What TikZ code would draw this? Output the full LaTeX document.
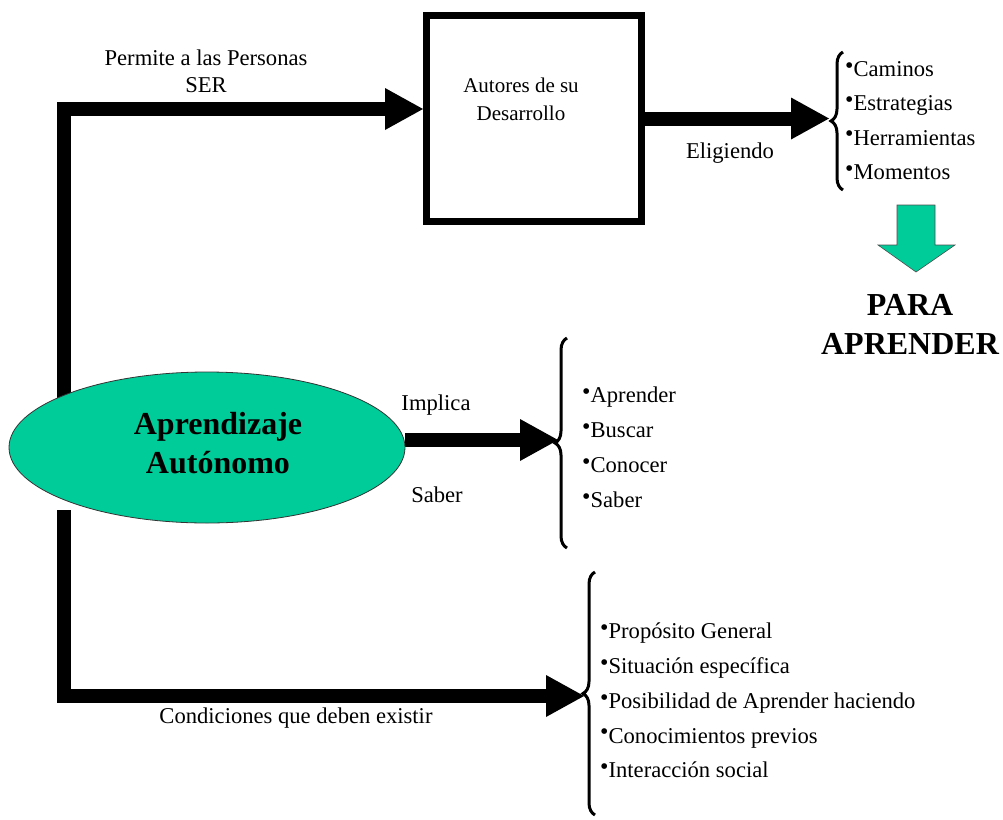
\documentclass[tikz,border=0pt]{standalone}
\usepackage{fontspec}
\setmainfont{Liberation Serif}
\usetikzlibrary{arrows.meta,shapes.geometric,decorations.pathreplacing,backgrounds}
\definecolor{aqua}{RGB}{0,204,153}
\newcommand\bul{\raisebox{3.2pt}{\fontsize{24}{24}\selectfont\textbullet}}
\begin{document}
\begin{tikzpicture}[x=1pt,y=-1pt,
  every node/.style={font=\fontsize{22.6}{27}\selectfont, inner sep=0pt},
  fat/.style={line width=14pt, line join=miter, -{Triangle[length=38pt 0 0, width=42pt 0 0, line width=0pt 0]}},
  bracestyle/.style={line width=3pt, decorate, decoration={brace, amplitude=12pt}},
  listtext/.style={align=left, anchor=west},
  big/.style={font=\fontsize{32}{39}\selectfont\bfseries, align=center}]
\useasboundingbox (0,0) rectangle (1003,819);

% main nodes
\node[draw, line width=7pt, minimum width=215pt, minimum height=206pt] (box) at (534,118.5) {};
\node[align=center, font=\fontsize{21}{28}\selectfont] (boxtext) at (521,99) {Autores de su\\Desarrollo};
\node[ellipse, draw=black!80, line width=0.8pt, fill=aqua, minimum width=396pt, minimum height=151pt] (ae) at (207,447.5) {};
\node[big] (aetext) at (218,443.5) {Aprendizaje\\Autónomo};

% brace tips
\coordinate (rbtip) at (829,118.5);
\coordinate (mbtip) at (558,440);
\coordinate (bbtip) at (584,696);

% connectors
\begin{scope}[on background layer]
\draw[fat] ([xshift=-143pt]ae.center) |- ([yshift=9.5pt]box.west);
\draw[fat] ([xshift=-143pt,yshift=-62.5pt]ae.center) |- (bbtip);
\draw[fat] ([yshift=7.5pt]ae.east) -- (mbtip);
\draw[fat] (box.east) -- (rbtip);
\end{scope}

% braces
\draw[bracestyle] (843,190) -- (843,52);
\draw[bracestyle] (567,548) -- (567,338);
\draw[bracestyle] (595,815) -- (595,572);

% labels
\node[align=center] (permite) at (206,71.5) {Permite a las Personas\\SER};
\node (elig) at (730,153) {Eligiendo};
\node (impl) at (436,405) {Implica};
\node (saber) at (437,495) {Saber};
\node (cond) at (296,718) {Condiciones que deben existir};

% lists
\node[listtext, font=\fontsize{22.6}{34.3}\selectfont] (l1) at (845,120.5) {\bul Caminos\\\bul Estrategias\\\bul Herramientas\\\bul Momentos};
\node[listtext, font=\fontsize{22.6}{35}\selectfont] (l2) at (582,447.5) {\bul Aprender\\\bul Buscar\\\bul Conocer\\\bul Saber};
\node[listtext, font=\fontsize{22.6}{34.75}\selectfont] (l3) at (600,700.5) {\bul Propósito General\\\bul Situación específica\\\bul Posibilidad de Aprender haciendo\\\bul Conocimientos previos\\\bul Interacción social};

% green down arrow
\filldraw[fill=aqua, draw=black!70, line width=0.6pt] (897,205) -- (935,205) -- (935,245) -- (955,245) -- (916,272) -- (878,245) -- (897,245) -- cycle;
\node[big] (para) at (910,324) {PARA\\APRENDER};
\end{tikzpicture}
\end{document}
